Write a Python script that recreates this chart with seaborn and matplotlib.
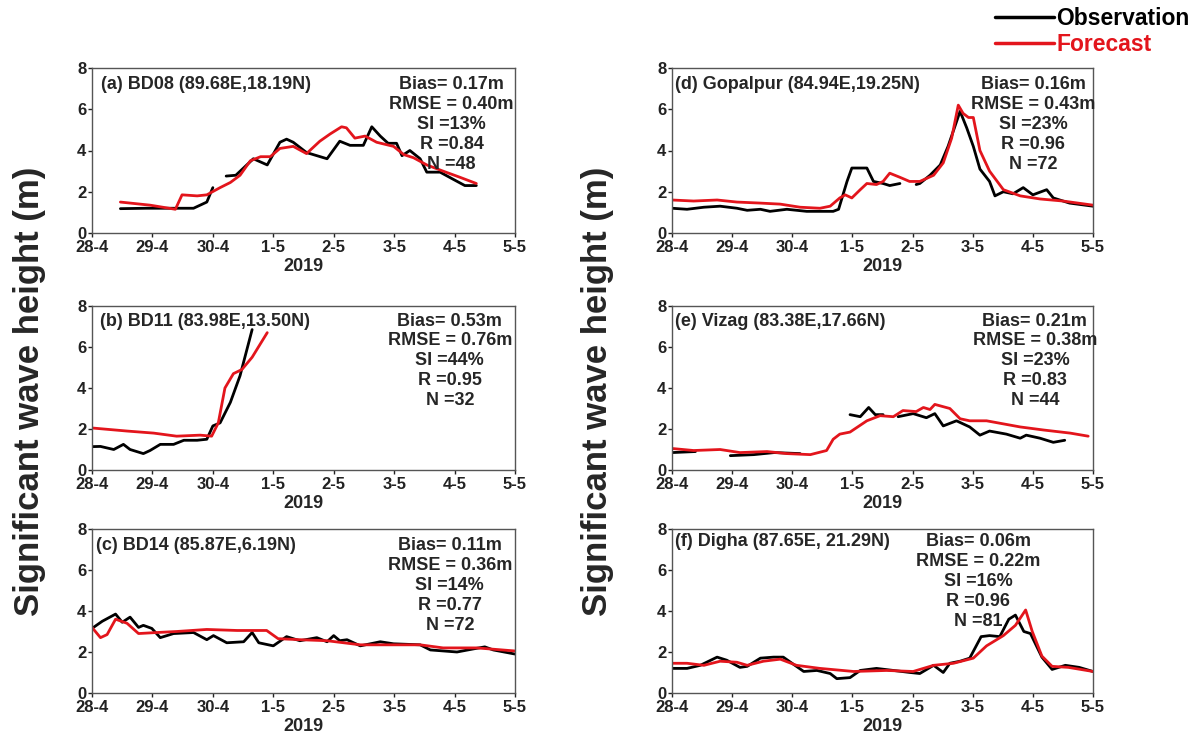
import numpy as np
import pandas as pd
import seaborn as sns
import matplotlib.pyplot as plt
from matplotlib.lines import Line2D

# x in days since 28-4 (2019); NaN in obs marks a gap in the record
day_ticks = [0, 1, 2, 3, 4, 5, 6, 7]
day_labels = ['28-4', '29-4', '30-4', '1-5', '2-5', '3-5', '4-5', '5-5']

# (a) BD08
a_obs_x = [0.47, 0.9, 1.4, 1.68, 1.9, 2.0, np.nan, 2.22, 2.38, 2.67, 2.9, 3.11, 3.22, 3.33, 3.55, 3.89, 4.1,
           4.27, 4.49, 4.63, 4.77, 4.9, 5.04, 5.13, 5.26, 5.43, 5.54, 5.76, 5.98, 6.17, 6.36]
a_obs_y = [1.18, 1.2, 1.2, 1.2, 1.5, 2.2, np.nan, 2.76, 2.8, 3.6, 3.3, 4.4, 4.55, 4.4, 3.9, 3.6, 4.45,
           4.25, 4.25, 5.15, 4.7, 4.35, 4.35, 3.75, 4.0, 3.6, 2.95, 2.95, 2.6, 2.3, 2.3]
a_fc_x = [0.47, 0.96, 1.38, 1.49, 1.74, 1.9, 2.12, 2.29, 2.45, 2.62, 2.79, 2.95, 3.11, 3.33, 3.55, 3.77,
          3.94, 4.13, 4.21, 4.35, 4.52, 4.71, 4.99, 5.16, 5.32, 5.54, 5.81, 6.09, 6.36]
a_fc_y = [1.5, 1.35, 1.15, 1.85, 1.8, 1.85, 2.2, 2.45, 2.8, 3.5, 3.7, 3.7, 4.1, 4.2, 3.85, 4.45,
          4.8, 5.15, 5.1, 4.6, 4.7, 4.4, 4.2, 3.8, 3.65, 3.3, 3.0, 2.7, 2.4]

# (b) BD11
b_obs_x = [0, 0.14, 0.36, 0.52, 0.63, 0.85, 0.96, 1.13, 1.35, 1.52, 1.74, 1.9, 2.0, 2.12, 2.29, 2.45, 2.65]
b_obs_y = [1.14, 1.15, 1.0, 1.25, 1.0, 0.8, 0.95, 1.25, 1.25, 1.45, 1.45, 1.5, 2.15, 2.3, 3.3, 4.6, 6.85]
b_fc_x = [0, 0.58, 1.02, 1.4, 1.79, 1.98, 2.09, 2.2, 2.34, 2.48, 2.65, 2.9]
b_fc_y = [2.05, 1.9, 1.8, 1.65, 1.7, 1.65, 2.3, 4.0, 4.7, 4.9, 5.5, 6.7]

# (c) BD14
c_obs_x = [0, 0.17, 0.39, 0.5, 0.63, 0.77, 0.85, 0.99, 1.13, 1.35, 1.68, 1.9, 2.01, 2.23, 2.51, 2.65, 2.76,
           3.0, 3.22, 3.44, 3.72, 3.89, 4.0, 4.1, 4.22, 4.44, 4.77, 4.99, 5.43, 5.6, 6.04, 6.31, 6.5, 6.64, 7.0]
c_obs_y = [3.15, 3.5, 3.85, 3.45, 3.7, 3.2, 3.3, 3.15, 2.7, 2.9, 2.95, 2.6, 2.8, 2.45, 2.5, 2.95, 2.45,
           2.3, 2.75, 2.55, 2.7, 2.5, 2.8, 2.55, 2.6, 2.3, 2.5, 2.4, 2.35, 2.1, 2.0, 2.15, 2.25, 2.1, 1.9]
c_fc_x = [0, 0.14, 0.25, 0.39, 0.58, 0.77, 1.07, 1.4, 1.9, 2.4, 2.89, 3.08, 3.44, 3.89, 4.44, 4.99,
          5.43, 5.81, 6.37, 7.0]
c_fc_y = [3.2, 2.7, 2.85, 3.6, 3.4, 2.9, 2.95, 3.0, 3.1, 3.05, 3.05, 2.65, 2.6, 2.55, 2.35, 2.35,
          2.35, 2.2, 2.2, 2.05]

# (d) Gopalpur
d_obs_x = [0, 0.25, 0.53, 0.8, 1.08, 1.25, 1.47, 1.63, 1.91, 2.24, 2.68, 2.77, 2.91, 2.99, 3.24, 3.35,
           3.51, 3.62, 3.79, np.nan, 4.06, 4.12, 4.29, 4.46, 4.59, 4.79, 4.9, 5.01, 5.12, 5.28, 5.37,
           5.51, 5.67, 5.84, 6.0, 6.23, 6.34, 6.61, 7.0]
d_obs_y = [1.2, 1.15, 1.25, 1.3, 1.2, 1.1, 1.15, 1.05, 1.15, 1.05, 1.05, 1.15, 2.5, 3.15, 3.15, 2.5,
           2.4, 2.3, 2.4, np.nan, 2.35, 2.4, 2.8, 3.3, 4.2, 5.9, 5.1, 4.2, 3.1, 2.5, 1.8,
           2.0, 1.9, 2.2, 1.85, 2.1, 1.7, 1.45, 1.3]
d_fc_x = [0, 0.36, 0.75, 1.08, 1.47, 1.8, 2.13, 2.46, 2.63, 2.79, 2.88, 2.99, 3.13, 3.24, 3.4, 3.51,
          3.62, 3.79, 3.95, 4.12, 4.35, 4.51, 4.65, 4.76, 4.84, 4.93, 5.01, 5.12, 5.28, 5.51, 5.79,
          6.12, 6.5, 7.0]
d_fc_y = [1.6, 1.55, 1.6, 1.5, 1.45, 1.4, 1.25, 1.2, 1.3, 1.7, 1.85, 1.7, 2.1, 2.4, 2.35, 2.5,
          2.9, 2.7, 2.5, 2.5, 2.8, 3.4, 4.6, 6.2, 5.8, 5.6, 5.6, 4.0, 3.0, 2.1, 1.8,
          1.65, 1.55, 1.35]

# (e) Vizag
e_obs_x = [0, 0.39, np.nan, 0.97, 1.36, 1.7, 2.13, np.nan, 2.96, 3.13, 3.27, 3.38, 3.51, np.nan,
           3.76, 4.01, 4.23, 4.37, 4.51, 4.73, 4.95, 5.12, 5.28, 5.56, 5.79, 5.89, 6.12, 6.34, 6.53]
e_obs_y = [0.85, 0.9, np.nan, 0.7, 0.75, 0.85, 0.8, np.nan, 2.7, 2.6, 3.05, 2.7, 2.7, np.nan,
           2.6, 2.75, 2.55, 2.75, 2.15, 2.4, 2.1, 1.7, 1.9, 1.75, 1.55, 1.7, 1.55, 1.35, 1.45]
e_fc_x = [0, 0.36, 0.8, 1.13, 1.58, 1.91, 2.3, 2.57, 2.68, 2.79, 2.96, 3.24, 3.46, 3.68, 3.84, 4.06,
          4.18, 4.29, 4.37, 4.62, 4.79, 4.95, 5.23, 5.79, 6.18, 6.62, 6.92]
e_fc_y = [1.05, 0.95, 1.0, 0.85, 0.9, 0.8, 0.75, 0.95, 1.5, 1.75, 1.85, 2.4, 2.65, 2.6, 2.9, 2.85,
          3.05, 2.95, 3.2, 3.0, 2.5, 2.4, 2.4, 2.1, 1.95, 1.8, 1.65]

# (f) Digha
f_obs_x = [0, 0.25, 0.47, 0.75, 0.91, 1.13, 1.25, 1.47, 1.69, 1.85, 2.02, 2.19, 2.41, 2.63, 2.74, 2.96,
           3.13, 3.4, 3.68, 3.96, 4.12, 4.35, 4.51, 4.62, 4.79, 4.95, 5.14, 5.28, 5.45, 5.6, 5.71,
           5.85, 5.96, 6.15, 6.32, 6.54, 6.77, 7.0]
f_obs_y = [1.2, 1.2, 1.35, 1.75, 1.6, 1.25, 1.3, 1.7, 1.75, 1.75, 1.4, 1.05, 1.1, 0.95, 0.7, 0.75,
           1.1, 1.2, 1.1, 1.0, 0.95, 1.35, 1.0, 1.45, 1.55, 1.7, 2.75, 2.8, 2.75, 3.6, 3.8,
           3.0, 2.9, 1.75, 1.15, 1.35, 1.25, 1.05]
f_fc_x = [0, 0.25, 0.53, 0.8, 1.08, 1.25, 1.52, 1.8, 2.07, 2.46, 3.02, 3.57, 4.01, 4.35, 4.68, 5.01,
          5.23, 5.51, 5.71, 5.88, 5.99, 6.15, 6.32, 6.59, 7.0]
f_fc_y = [1.45, 1.45, 1.35, 1.55, 1.5, 1.35, 1.55, 1.65, 1.35, 1.2, 1.05, 1.1, 1.05, 1.35, 1.45, 1.7,
          2.3, 2.8, 3.3, 4.05, 3.0, 1.8, 1.3, 1.25, 1.05]

titles = ['(a) BD08 (89.68E,18.19N)', '(b) BD11 (83.98E,13.50N)', '(c) BD14 (85.87E,6.19N)',
          '(d) Gopalpur (84.94E,19.25N)', '(e) Vizag (83.38E,17.66N)', '(f) Digha (87.65E, 21.29N)']
bias = ['0.17', '0.53', '0.11', '0.16', '0.21', '0.06']
rmse = ['0.40', '0.76', '0.36', '0.43', '0.38', '0.22']
si = ['13', '44', '14', '23', '23', '16']
rr = ['0.84', '0.95', '0.77', '0.96', '0.83', '0.96']
nn = ['48', '32', '72', '72', '44', '81']

series = [(a_obs_x, a_obs_y, a_fc_x, a_fc_y), (b_obs_x, b_obs_y, b_fc_x, b_fc_y),
          (c_obs_x, c_obs_y, c_fc_x, c_fc_y), (d_obs_x, d_obs_y, d_fc_x, d_fc_y),
          (e_obs_x, e_obs_y, e_fc_x, e_fc_y), (f_obs_x, f_obs_y, f_fc_x, f_fc_y)]

RED = '#e3151c'

sns.set_style('ticks')
plt.rcParams['font.family'] = ['Liberation Sans', 'DejaVu Sans']
plt.rcParams['font.weight'] = 'bold'


def to_segments(x, y):
    # split at NaN so gaps stay open
    df = pd.DataFrame({'day': x, 'hs': y})
    df['seg'] = df['hs'].isna().cumsum()
    return df.dropna()


W, H = 1196, 737
# axes boxes in pixels: left, top, right, bottom
boxes = [(92, 68, 515, 233), (92, 306, 515, 470), (92, 529, 515, 693),
         (672, 68, 1093, 233), (672, 306, 1093, 470), (672, 529, 1093, 693)]
stat_x = [0.85, 0.846, 0.846, 0.858, 0.862, 0.727]
text_top = [0.95, 0.96, 0.95, 0.95, 0.96, 0.975]
title_x = [0.022, 0.02, 0.01, 0.006, 0.007, 0.007]

fig = plt.figure(figsize=(W / 100, H / 100), dpi=100)

for i, (ox, oy, fx, fy) in enumerate(series):
    l, t, r, b = boxes[i]
    ax = fig.add_axes([l / W, (H - b) / H, (r - l) / W, (b - t) / H])
    obs = to_segments(ox, oy)
    fc = pd.DataFrame({'day': fx, 'hs': fy})
    sns.lineplot(data=obs, x='day', y='hs', units='seg', estimator=None, color='black',
                 lw=2.0, ax=ax, sort=False)
    sns.lineplot(data=fc, x='day', y='hs', estimator=None, color=RED, lw=2.0, ax=ax, sort=False)
    ax.set_xlim(0, 7)
    ax.set_ylim(0, 8)
    ax.set_xticks(day_ticks)
    ax.set_xticklabels(day_labels)
    ax.set_yticks([0, 2, 4, 6, 8])
    ax.tick_params(labelsize=12, length=3, width=1, pad=1, colors='#222222')
    ax.tick_params(axis='x', pad=2)
    for s in ax.spines.values():
        s.set_color('#555555')
        s.set_linewidth(1.0)
    ax.set_xlabel('2019', fontsize=13, fontweight='bold', labelpad=2)
    ax.set_ylabel('')
    ax.text(title_x[i], text_top[i], titles[i], transform=ax.transAxes, fontsize=13,
            fontweight='bold', ha='left', va='top')
    stats = (f'Bias= {bias[i]}m\nRMSE = {rmse[i]}m\nSI ={si[i]}%\nR ={rr[i]}\nN ={nn[i]}')
    ax.text(stat_x[i], text_top[i], stats, transform=ax.transAxes, fontsize=13,
            fontweight='bold', ha='center', va='top', multialignment='center', linespacing=1.22)

for xp in [30, 598]:
    fig.text(xp / W, (H - 391) / H, 'Significant wave height (m)', rotation=90, fontsize=25,
             fontweight='bold', ha='center', va='center')

handles = [Line2D([], [], color='black', lw=2.5), Line2D([], [], color=RED, lw=2.5)]
fig.legend(handles, ['Observation', 'Forecast'], loc='upper right', bbox_to_anchor=(1.012, 1.018),
           frameon=False, handlelength=2.6, handletextpad=0.1, labelspacing=0.1,
           labelcolor=['black', RED], prop={'weight': 'bold', 'size': 16.5})

fig.savefig('out.png', dpi=100, facecolor='white')
